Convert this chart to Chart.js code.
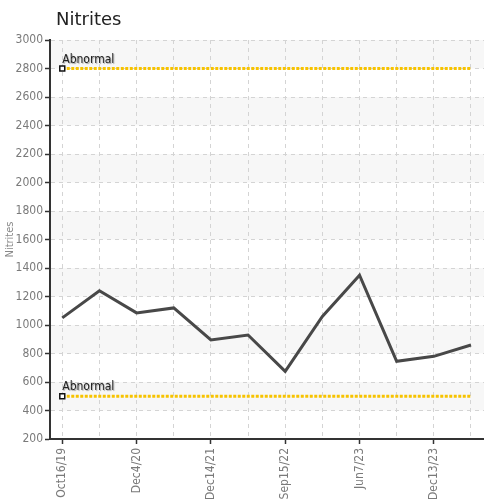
<!DOCTYPE html>
<html>
<head>
<meta charset="utf-8">
<script src="https://cdn.jsdelivr.net/npm/chart.js@4"></script>
<style>
  html, body { margin: 0; padding: 0; background: #fff; }
  #wrap { width: 484px; height: 502px; position: relative; }
</style>
</head>
<body>
<div id="wrap"><canvas id="myChart"></canvas></div>
<script>
// tick labels, one per sample (only every other one is printed)
const tickLabels = ['Oct16/19', '', 'Dec4/20', '', 'Dec14/21', '', 'Sep15/22', '', 'Jun7/23', '', 'Dec13/23', ''];
const nitrites = [1050, 1240, 1085, 1120, 895, 930, 675, 1060, 1350, 745, 780, 860];
const abnormalHigh = [2800, 2800];
const abnormalLow = [500, 500];
const bandStarts = [400, 800, 1200, 1600, 2000, 2400, 2800];

const condensed = "'DejaVu Sans Condensed', 'DejaVu Sans', sans-serif";
const lastIdx = nitrites.length - 1;

const series = nitrites.map((v, i) => ({ x: i, y: v }));
const hiLine = [{ x: 0, y: abnormalHigh[0] }, { x: lastIdx, y: abnormalHigh[1] }];
const loLine = [{ x: 0, y: abnormalLow[0] }, { x: lastIdx, y: abnormalLow[1] }];

const bands = {
    id: 'bands',
    beforeDraw(chart) {
        const { ctx, chartArea, scales } = chart;
        ctx.save();
        ctx.fillStyle = '#f7f7f7';
        bandStarts.forEach(b => {
            const y1 = scales.y.getPixelForValue(b + 200);
            const y2 = scales.y.getPixelForValue(b);
            ctx.fillRect(chartArea.left, y1, chartArea.right - chartArea.left, y2 - y1);
        });
        ctx.restore();
    }
};

const texts = {
    id: 'texts',
    afterDraw(chart) {
        const ctx = chart.ctx;
        ctx.save();
        ctx.fillStyle = '#222';
        ctx.font = "18px 'DejaVu Sans', sans-serif";
        ctx.textBaseline = 'alphabetic';
        ctx.fillText('Nitrites', 56, 25);
        ctx.font = '12px ' + condensed;
        ctx.shadowColor = 'rgba(0,0,0,0.35)';
        ctx.shadowOffsetX = 1;
        ctx.shadowOffsetY = 1;
        ctx.shadowBlur = 1;
        [1, 2].forEach(di => {
            const pt = chart.getDatasetMeta(di).data[0];
            ctx.fillText('Abnormal', pt.x, pt.y - 6);
        });
        ctx.restore();
    }
};

new Chart(document.getElementById('myChart'), {
    type: 'line',
    data: {
        datasets: [{
            label: 'Nitrites',
            data: series,
            borderColor: '#484848',
            borderWidth: 3,
            pointRadius: 0,
            tension: 0
        }, {
            label: 'Abnormal',
            data: hiLine,
            borderColor: '#f7c300',
            borderWidth: 3,
            borderDash: [3, 1.5],
            pointStyle: 'rect',
            pointRadius: [3.5, 0],
            pointBackgroundColor: '#fff',
            pointBorderColor: '#111',
            pointBorderWidth: 1.5
        }, {
            label: 'Abnormal',
            data: loLine,
            borderColor: '#f7c300',
            borderWidth: 3,
            borderDash: [3, 1.5],
            pointStyle: 'rect',
            pointRadius: [3.5, 0],
            pointBackgroundColor: '#fff',
            pointBorderColor: '#111',
            pointBorderWidth: 1.5
        }]
    },
    options: {
        responsive: true,
        maintainAspectRatio: false,
        animation: false,
        layout: { autoPadding: false, padding: { top: 40, right: 0, left: 0, bottom: 0 } },
        plugins: {
            legend: { display: false },
            tooltip: { enabled: false }
        },
        scales: {
            x: {
                type: 'linear',
                min: -0.33,
                max: 11.35,
                afterFit: s => { s.height = 63; s.paddingRight = 0; s.paddingLeft = 0; },
                afterBuildTicks: s => {
                    s.ticks = tickLabels.map((t, i) => ({ value: i }));
                },
                ticks: {
                    autoSkip: false,
                    maxRotation: 90,
                    minRotation: 90,
                    padding: 4,
                    color: '#7a7a7a',
                    font: { family: condensed, size: 12 },
                    callback: (v) => tickLabels[v] || ''
                },
                grid: {
                    color: '#d4d4d4',
                    tickLength: 5,
                    tickColor: c => (c.index % 2 === 0 ? '#333' : 'rgba(0,0,0,0)'),
                    tickWidth: 1.5
                },
                border: { color: '#333', width: 2, dash: [4, 4] }
            },
            y: {
                min: 200,
                max: 3000,
                afterFit: s => { s.width = 50; },
                ticks: {
                    stepSize: 200,
                    padding: 2,
                    color: '#7a7a7a',
                    font: { family: condensed, size: 12 },
                    callback: v => String(v)
                },
                title: {
                    display: true,
                    text: 'Nitrites',
                    color: '#888',
                    padding: { top: 4, bottom: 0 },
                    font: { family: condensed, size: 11 }
                },
                grid: {
                    color: '#d4d4d4',
                    tickLength: 5,
                    tickColor: '#333',
                    tickWidth: 1.5
                },
                border: { color: '#333', width: 2, dash: [4, 4] }
            }
        }
    },
    plugins: [bands, texts]
});
</script>
</body>
</html>
